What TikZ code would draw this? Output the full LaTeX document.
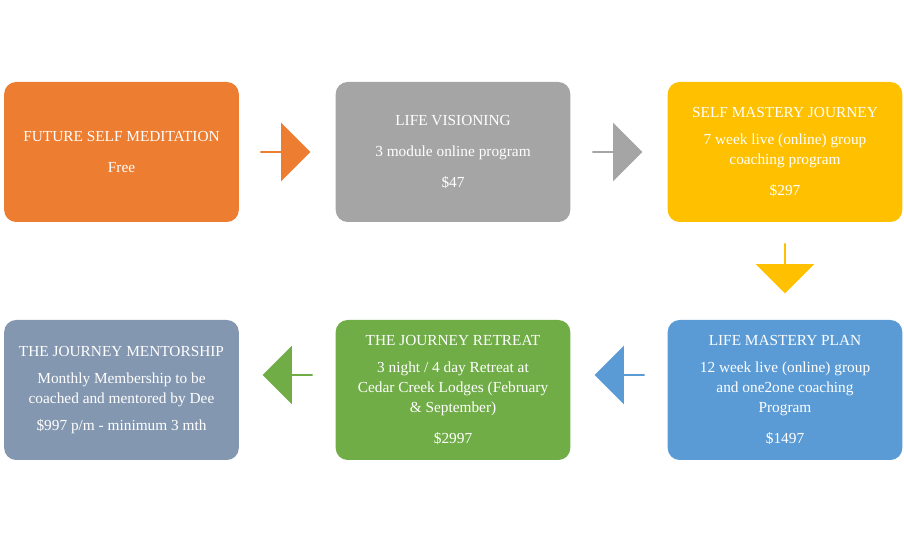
\documentclass[tikz,border=0pt]{standalone}
\usepackage{fontspec}
\setmainfont{Liberation Serif}
\usetikzlibrary{shapes.arrows}
\definecolor{orangeA}{HTML}{ED7D31}
\definecolor{grayA}{HTML}{A5A5A5}
\definecolor{goldA}{HTML}{FFC000}
\definecolor{slateA}{HTML}{8497B0}
\definecolor{greenA}{HTML}{70AD47}
\definecolor{blueA}{HTML}{5B9BD5}
\begin{document}
\begin{tikzpicture}[%
      x=0.75pt, y=-0.75pt,
      box/.style={rounded corners=9pt, minimum width=176pt, minimum height=105pt,
        text=white, align=center, font=\fontsize{11.5}{15}\selectfont, inner sep=0pt},
      flowarrow/.style={single arrow, minimum height=37.5pt, minimum width=44pt,
        single arrow head extend=6pt, single arrow head indent=0pt, inner sep=0pt},
      ]
      \useasboundingbox (0,0) rectangle (904,541);

      \node[box, fill=orangeA] (meditation) at (121.5,152) {FUTURE SELF MEDITATION\\[8pt]Free};
      \node[box, fill=grayA] (visioning) at (453,152) {LIFE VISIONING\\[8pt]3 module online program\\[8pt]\$47};
      \node[box, fill=goldA] (journey) at (785,152) {SELF MASTERY JOURNEY\\[5pt]7 week live (online) group\\coaching program\\[8pt]\$297};
      \node[box, fill=slateA] (mentorship) at (121.5,390) {THE JOURNEY MENTORSHIP\\[5pt]Monthly Membership to be\\coached and mentored by Dee\\[5pt]\$997 p/m - minimum 3 mth};
      \node[box, fill=greenA] (retreat) at (453,390) {THE JOURNEY RETREAT\\[5pt]3 night / 4 day Retreat at\\Cedar Creek Lodges (February\\\& September)\\[8pt]\$2997};
      \node[box, fill=blueA] (plan) at (785,390) {LIFE MASTERY PLAN\\[5pt]12 week live (online) group\\and one2one coaching\\Program\\[8pt]\$1497};

      \node[flowarrow, fill=orangeA] (s1) at (285,152) {};
      \node[flowarrow, fill=grayA] (s2) at (617,152) {};
      \node[flowarrow, fill=goldA, shape border rotate=270] (s3) at (785,268) {};
      \node[flowarrow, fill=blueA, shape border rotate=180] (s4) at (620,375) {};
      \node[flowarrow, fill=greenA, shape border rotate=180] (s5) at (288,375) {};
      \end{tikzpicture}
\end{document}
